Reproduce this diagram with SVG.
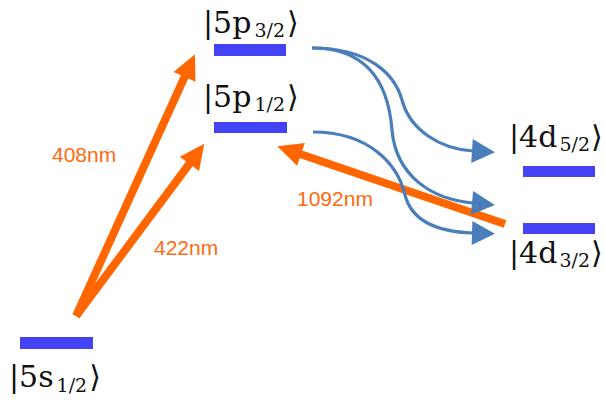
<svg xmlns="http://www.w3.org/2000/svg" width="605" height="403" viewBox="0 0 605 403">
<style>
.bar{fill:#4343F5}
.lbl{font-family:"DejaVu Serif","Liberation Serif",serif;font-size:30px;fill:#111}
.sub{font-size:19px}
.nm{font-family:"Liberation Sans",Arial,sans-serif;font-size:21px;fill:#FF6A10}
.las{stroke:#FF6600;stroke-width:8;fill:none}
.dec{stroke:#4A7EBB;stroke-width:3.2;fill:none}
</style>
<defs>
<marker id="ho" markerUnits="userSpaceOnUse" markerWidth="30" markerHeight="30" viewBox="-2 -13 30 26" refX="1" refY="0" orient="auto"><path d="M0,-12 L25,0 L0,12 z" fill="#FF6600"/></marker>
<marker id="hb" markerUnits="userSpaceOnUse" markerWidth="30" markerHeight="30" viewBox="-2 -13 30 26" refX="1" refY="0" orient="auto"><path d="M0,-12 L23,0 L0,12 z" fill="#4A7EBB"/></marker>
</defs>
<g id="level-5s12"><rect class="bar" x="20" y="337" width="73" height="12"/>
<text class="lbl" x="9" y="387">|5s<tspan class="sub" dx="3" dy="5">1/2</tspan><tspan dx="2" dy="-5">⟩</tspan></text></g>
<g id="level-5p32"><rect class="bar" x="214" y="44" width="72" height="12"/>
<text class="lbl" x="203" y="33">|5p<tspan class="sub" dx="3" dy="4">3/2</tspan><tspan dx="2" dy="-4">⟩</tspan></text></g>
<g id="level-5p12"><rect class="bar" x="214" y="122" width="73" height="11"/>
<text class="lbl" x="203" y="107">|5p<tspan class="sub" dx="3" dy="4">1/2</tspan><tspan dx="2" dy="-4">⟩</tspan></text></g>
<g id="level-4d52"><rect class="bar" x="523" y="166" width="72" height="11"/>
<text class="lbl" x="509" y="147">|4d<tspan class="sub" dx="2" dy="4">5/2</tspan><tspan dx="1" dy="-4">⟩</tspan></text></g>
<g id="level-4d32"><rect class="bar" x="523" y="223" width="72" height="11"/>
<text class="lbl" x="509" y="263">|4d<tspan class="sub" dx="2" dy="4">3/2</tspan><tspan dx="1" dy="-4">⟩</tspan></text></g>
<g id="connectors">
<line class="las" x1="76" y1="316" x2="185" y2="76" marker-end="url(#ho)"/>
<line class="las" x1="76" y1="316" x2="190" y2="163" marker-end="url(#ho)"/>
<line class="las" x1="505" y1="224" x2="300" y2="154" marker-end="url(#ho)"/>
<path class="dec" d="M312,48 C370,48 395,75 402,100 C410,130 440,149 473,151" marker-end="url(#hb)"/>
<path class="dec" d="M312,48 C365,48 388,80 392,130 C396,175 430,199 473,203" marker-end="url(#hb)"/>
<path class="dec" d="M313,132 C370,132 398,165 405,195 C412,222 440,232 473,233" marker-end="url(#hb)"/>
<text class="nm" x="52" y="162">408nm</text>
<text class="nm" x="154" y="255">422nm</text>
<text class="nm" x="297" y="206">1092nm</text>
</g>
</svg>
